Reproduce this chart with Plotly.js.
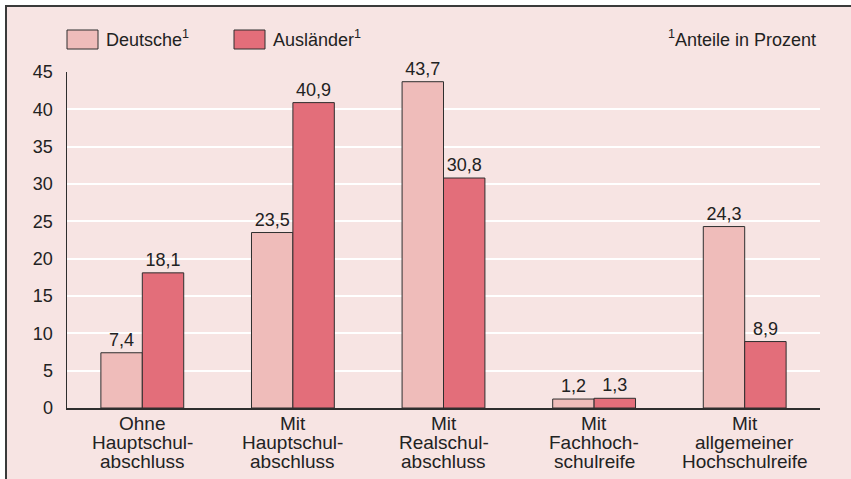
<!DOCTYPE html>
<html>
<head>
<meta charset="utf-8">
<script src="https://cdn.plot.ly/plotly-3.0.1.min.js"></script>
<style>
  html, body { margin: 0; padding: 0; background: #ffffff; width: 851px; height: 479px; overflow: hidden; }
  #frame { position: absolute; left: 5px; top: 5px; width: 846px; height: 474px;
           border-top: 2px solid #3a3a3a; border-left: 2px solid #3a3a3a; background: #f7e4e3; }
  #chart { position: absolute; left: 0; top: 0; width: 844px; height: 472px; }
</style>
</head>
<body>
<div id="frame"><div id="chart"></div></div>
<script>
const categoryLines = [
  ["Ohne", "Hauptschul-", "abschluss"],
  ["Mit", "Hauptschul-", "abschluss"],
  ["Mit", "Realschul-", "abschluss"],
  ["Mit", "Fachhoch-", "schulreife"],
  ["Mit", "allgemeiner", "Hochschulreife"]
];
const categories = categoryLines.map(l => l.join(" "));
const deutsche = [7.4, 23.5, 43.7, 1.2, 24.3];
const auslaender = [18.1, 40.9, 30.8, 1.3, 8.9];
const seriesNames = ["Deutsche<sup>1</sup>", "Ausländer<sup>1</sup>"];
const note = "<sup>1</sup>Anteile in Prozent";
const yTicks = [0, 5, 10, 15, 20, 25, 30, 35, 40, 45];

const colors = ["#efbcba", "#e36e7a"];
const fam = "Liberation Sans, Arial, Helvetica, sans-serif";
const font = { family: fam, size: 18, color: "#222222" };
const catFont = { family: fam, size: 19, color: "#222222" };

const traces = [deutsche, auslaender].map((vals, i) => ({
  type: "bar",
  x: categories,
  y: vals,
  name: seriesNames[i],
  marker: { color: colors[i], line: { color: "#2e2e2e", width: 1 } },
  texttemplate: "%{y:.1f}",
  textposition: "outside",
  textfont: font,
  cliponaxis: false,
  hoverinfo: "none",
  showlegend: false
}));

// plot area in page pixels: x 67..820, y 72..408
const W = 753, H = 336, X0 = 67, Y0 = 408;
const px = x => (x - X0) / W;
const py = y => (Y0 - y) / H;

const annotations = [
  { xref: "paper", yref: "paper", x: px(104), y: py(39),
    xanchor: "left", yanchor: "middle", text: seriesNames[0], showarrow: false, font: font },
  { xref: "paper", yref: "paper", x: px(271), y: py(39),
    xanchor: "left", yanchor: "middle", text: seriesNames[1], showarrow: false, font: font },
  { xref: "paper", yref: "paper", x: px(818), y: py(39),
    xanchor: "right", yanchor: "middle", text: note, showarrow: false, font: font }
];
const lineY = [423, 442, 461];
categoryLines.forEach((lines, ci) => {
  lines.forEach((t, li) => {
    annotations.push({ xref: "x", yref: "paper", x: categories[ci], y: py(lineY[li]),
      xanchor: "center", yanchor: "middle", text: t, showarrow: false, font: catFont });
  });
});

const layout = {
  width: 844, height: 472,
  margin: { l: 60, r: 31, t: 65, b: 71 },
  paper_bgcolor: "#f7e4e3",
  plot_bgcolor: "#f7e4e3",
  separators: ",.",
  barmode: "group",
  bargap: 0.45,
  bargroupgap: 0,
  font: font,
  xaxis: {
    type: "category",
    range: [-0.5, 4.5],
    showline: true, linecolor: "#2e2e2e", linewidth: 1.5,
    showgrid: false, ticks: "", showticklabels: false, automargin: false
  },
  yaxis: {
    range: [0, 45],
    tickvals: yTicks,
    ticktext: yTicks.map(String),
    ticklabelstandoff: 9,
    showline: true, linecolor: "#2e2e2e", linewidth: 1.5,
    showgrid: true, gridcolor: "#ffffff", gridwidth: 2,
    zeroline: false, ticks: "", tickfont: font, automargin: false
  },
  shapes: [
    { type: "rect", xref: "paper", yref: "paper",
      x0: px(67), x1: px(98), y0: py(49), y1: py(30),
      fillcolor: colors[0], line: { color: "#2e2e2e", width: 1 } },
    { type: "rect", xref: "paper", yref: "paper",
      x0: px(234), x1: px(265), y0: py(49), y1: py(30),
      fillcolor: colors[1], line: { color: "#2e2e2e", width: 1 } }
  ],
  annotations: annotations
};

Plotly.newPlot("chart", traces, layout, { staticPlot: true, displayModeBar: false });
</script>
</body>
</html>
